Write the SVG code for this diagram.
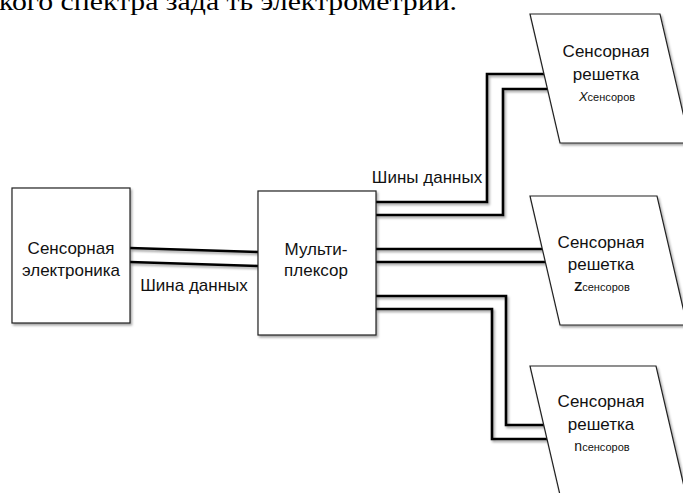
<svg xmlns="http://www.w3.org/2000/svg" width="683" height="493" viewBox="0 0 683 493">
<defs>
<filter id="sh" filterUnits="userSpaceOnUse" x="0" y="0" width="700" height="520">
<feDropShadow dx="1.5" dy="2" stdDeviation="1.2" flood-color="#000" flood-opacity="0.35"/>
</filter>
</defs>
<style>
.box{fill:#fff;stroke:#222;stroke-width:1.2;filter:url(#sh)}
.bus{fill:none;stroke:#000;stroke-width:2.6;filter:url(#sh)}
.t{font-family:"Liberation Sans",Arial,sans-serif;font-size:17px;fill:#111;text-anchor:middle}
.s{font-family:"Liberation Sans",Arial,sans-serif;font-size:11px;fill:#111;text-anchor:middle}
.head{font-family:"Liberation Serif","Times New Roman",serif;font-size:26px;fill:#000}
</style>
<rect width="683" height="493" fill="#fff"/>
<text class="head" x="-1" y="10" textLength="458" lengthAdjust="spacingAndGlyphs">кого спектра зада ть электрометрии.</text>

<g id="connectors">
<polyline class="bus" points="130,248 258,252"/>
<polyline class="bus" points="130,262 258,266"/>
<polyline class="bus" points="376,202 487,202 487,74 544,74"/>
<polyline class="bus" points="376,215 503,215 503,89 547,89"/>
<polyline class="bus" points="376,249 542,249"/>
<polyline class="bus" points="376,262 545,262"/>
<polyline class="bus" points="376,296 506,296 506,425 544,425"/>
<polyline class="bus" points="376,309 492,309 492,439 547,439"/>
<text class="t" x="194" y="291">Шина данных</text>
<text class="t" x="427" y="183">Шины данных</text>
</g>

<g id="electronics">
<rect class="box" x="12" y="188" width="118" height="135"/>
<text class="t" x="71" y="254">Сенсорная</text>
<text class="t" x="71" y="276">электроника</text>
</g>

<g id="mux">
<rect class="box" x="258" y="191" width="118" height="144"/>
<text class="t" x="316" y="255">Мульти-</text>
<text class="t" x="316" y="276">плексор</text>
</g>

<g id="arrayX">
<polygon class="box" points="530,14 660,14 690,143 560,143"/>
<text class="t" x="606" y="57">Сенсорная</text>
<text class="t" x="606" y="80">решетка</text>
<text class="s" x="607" y="101"><tspan font-style="italic" font-size="13">X</tspan>сенсоров</text>
</g>

<g id="arrayZ">
<polygon class="box" points="530,196 657,196 687,325 560,325"/>
<text class="t" x="601" y="248">Сенсорная</text>
<text class="t" x="601" y="270">решетка</text>
<text class="s" x="602" y="291"><tspan font-weight="bold" font-size="13">Z</tspan>сенсоров</text>
</g>

<g id="arrayN">
<polygon class="box" points="530,366 656,366 686,495 560,495"/>
<text class="t" x="601" y="407">Сенсорная</text>
<text class="t" x="601" y="430">решетка</text>
<text class="s" x="602" y="451"><tspan font-size="14">n</tspan>сенсоров</text>
</g>
</svg>
